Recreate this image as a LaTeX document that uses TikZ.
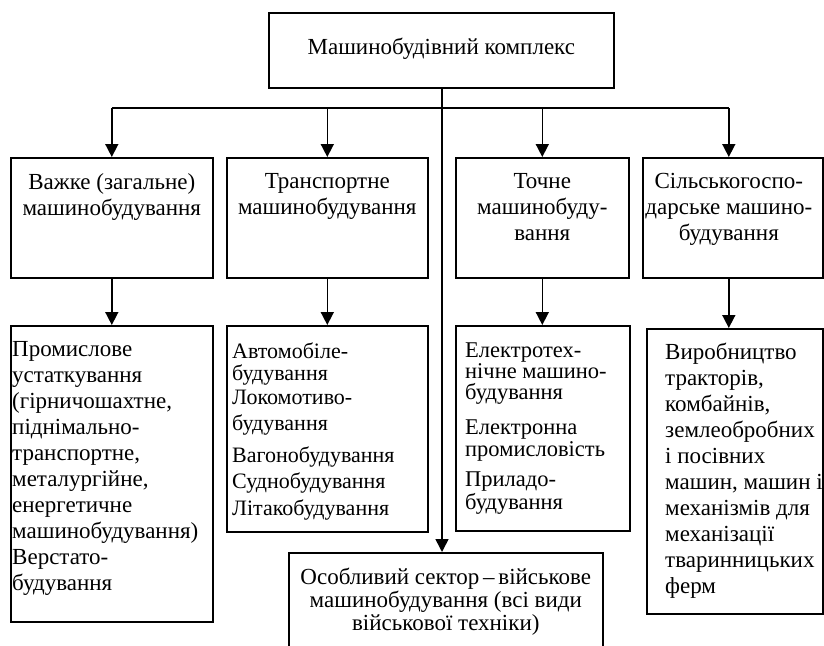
\documentclass[tikz,border=0pt]{standalone}
\usepackage{fontspec}
\setmainfont{Liberation Serif}
\usetikzlibrary{arrows.meta}
\begin{document}
\begin{tikzpicture}[x=1pt,y=-1pt,
  box/.style={draw, line width=1.6pt, rectangle, inner sep=0pt, anchor=north west},
  conn/.style={line width=1.6pt},
  arr/.style={line width=1.6pt, -{Triangle[width=13pt,length=13pt]}},
  lbl/.style={inner sep=0pt, font=\fontsize{23}{26}\selectfont},
  ctext/.style={lbl, anchor=north, align=center},
  ltext/.style={lbl, anchor=north west, align=left},
  ]
\useasboundingbox (0,0) rectangle (824,645);
\clip (0,0) rectangle (824,645);
\fill[white] (0,0) rectangle (824,645);

% top
\node[box, minimum width=345pt, minimum height=75pt] (top) at (268,12) {};
\node[lbl] (toptext) at ([yshift=2pt]top.center) {Машинобудівний комплекс};

% level 2
\node[box, minimum width=202pt, minimum height=120pt] (b1) at (10,157) {};
\node[box, minimum width=201pt, minimum height=120pt] (b2) at (226,157) {};
\node[box, minimum width=173pt, minimum height=120pt] (b3) at (455,157) {};
\node[box, minimum width=180pt, minimum height=120pt] (b4) at (642,157) {};
\node[ctext] (t1) at ([yshift=-16pt]b1.north) {Важке (загальне)\\машинобудування};
\node[ctext] (t2) at ([yshift=-16pt]b2.north) {Транспортне\\машинобудування};
\node[ctext] (t3) at ([yshift=-16pt]b3.north) {Точне\\машинобуду-\\вання};
\node[ctext] (t4) at ([xshift=-4pt,yshift=-16pt]b4.north) {Сільськогоспо-\\дарське машино-\\будування};

% level 3
\node[box, minimum width=202pt, minimum height=296pt] (c1) at (10,325) {};
\node[box, minimum width=201pt, minimum height=206pt] (c2) at (226,325) {};
\node[box, minimum width=174pt, minimum height=205pt] (c3) at (455,325) {};
\node[box, minimum width=176pt, minimum height=285pt] (c4) at (646,328) {};
\node[ltext] (u1) at (12,341) {Промислове\\устаткування\\(гірничошахтне,\\піднімально-\\транспортне,\\металургійне,\\енергетичне\\машинобудування)\\Верстато-\\будування};
\node[ltext, font=\fontsize{22}{26}\selectfont] (u2) at (232,343) {Автомобіле-\\[-4pt]будування\\[-2pt]Локомотиво-\\[0pt]будування\\[6pt]Вагонобудування\\[0pt]Суднобудування\\[1pt]Літакобудування};
\node[ltext, font=\fontsize{22.5}{26}\selectfont] (u3) at (465,343) {Електротех-\\[-5pt]нічне машино-\\[-5pt]будування\\[9pt]Електронна\\[-4pt]промисловість\\[4pt]Приладо-\\[-3pt]будування};
\node[ltext] (u4) at (665,343) {Виробництво\\тракторів,\\комбайнів,\\землеобробних\\і посівних\\машин, машин і\\механізмів для\\механізації\\тваринницьких\\ферм};

% bottom
\node[box, minimum width=314pt, minimum height=120pt] (bot) at (288,552) {};
\node[ctext, font=\fontsize{23}{23}\selectfont] (bt) at ([yshift=-16pt]bot.north) {Особливий сектор\,–\,військове\\машинобудування (всі види\\військової техніки)};

% connectors
\coordinate (bar) at (442,108);
\draw[conn] (b1.north |- bar) -- ([xshift=-4pt]b4.north |- bar);
\draw[arr] (bar |- top.south) -- (bar |- bot.north);
\draw[arr] (b1.north |- bar) -- (b1.north);
\draw[arr] (b2.north |- bar) -- (b2.north);
\draw[arr] (b3.north |- bar) -- (b3.north);
\draw[arr] ([xshift=-4pt]b4.north |- bar) -- ([xshift=-4pt]b4.north);
\draw[arr] (b1.south) -- (c1.north);
\draw[arr] (b2.south) -- (c2.north);
\draw[arr] (b3.south) -- (b3.south |- c3.north);
\draw[arr] ([xshift=-4pt]b4.south) -- ([xshift=-4pt]b4.south |- c4.north);
\end{tikzpicture}
\end{document}
